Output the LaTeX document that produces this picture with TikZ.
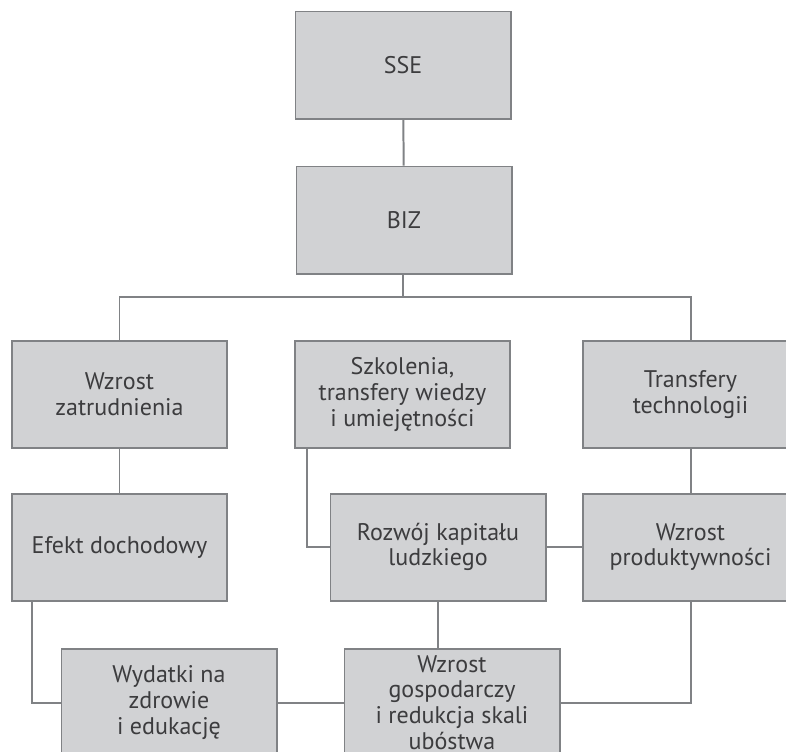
\documentclass[tikz,border=0pt]{standalone}
\usepackage{fontspec}
\setmainfont{PT Sans}
\usetikzlibrary{
    calc
}
\definecolor{boxfill}{HTML}{D1D2D4}
\definecolor{boxline}{HTML}{808285}
\definecolor{boxtext}{HTML}{3C3C3E}
\tikzset {
    box/.style = {
        draw = boxline, fill = boxfill, line width = 1.7pt,
        minimum width = 6.45cm, minimum height = 3.21cm,
        inner sep = 0pt, align = center, text = boxtext,
        font = \fontsize{20.5}{22}\selectfont
    },
    link/.style = {draw = boxline, line width = 1.7pt},
}

\begin{document}
\begin{tikzpicture}[x = 0.03cm, y = -0.03cm]
            \clip (0, 0) rectangle (786, 751);
            \node (sse) [box] at (403, 65) {SSE};
            \node (biz) [box] at (404, 220) {BIZ};
            \node (zatr) [box] at (119.5, 394.5) {Wzrost\\zatrudnienia};
            \node (szkol) [box] at (402.5, 394.5) {Szkolenia,\\transfery wiedzy\\i umiejętności};
            \node (transf) [box] at (690.5, 394.5) {Transfery\\technologii};
            \node (efekt) [box] at (119.5, 547) {Efekt dochodowy};
            \node (rozwoj) [box] at (438, 547) {Rozwój kapitału\\ludzkiego};
            \node (prod) [box] at (690.5, 547) {Wzrost\\produktywności};
            \node (wydatki) [box] at (169, 702.5) {Wydatki na\\zdrowie\\i edukację};
            \node (gosp) [box] at (452, 702.5) {Wzrost\\gospodarczy\\i redukcja skali\\ubóstwa};
            \coordinate (bus) at (403, 297);
            \draw [link] (sse) -- (biz);
            \draw [link] (biz.south -| bus) -- (bus);
            \draw [link] (zatr.north) |- (bus) -| (transf.north);
            \draw [link] (zatr) -- (efekt);
            \draw [link] ($(szkol.south west) + (13, 0)$) |- (rozwoj.west);
            \draw [link] (transf) -- (prod);
            \draw [link] (rozwoj) -- (prod);
            \draw [link] (rozwoj.south) -- (rozwoj.south |- gosp.north);
            \draw [link] ($(efekt.south west) + (21, 0)$) |- (wydatki.west);
            \draw [link] (wydatki) -- (gosp);
            \draw [link] (prod.south) |- (gosp.east);
        \end{tikzpicture}
\end{document}
